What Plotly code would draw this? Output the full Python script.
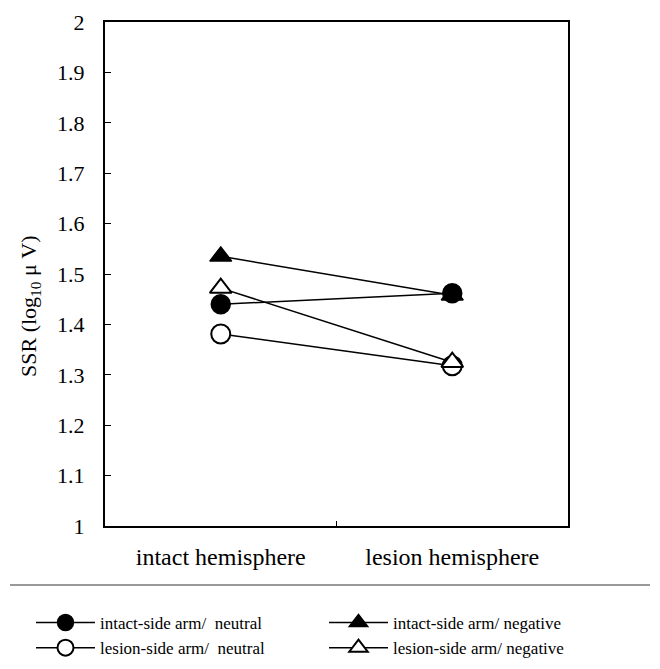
import plotly.graph_objects as go

categories = ["intact hemisphere", "lesion hemisphere"]
intact_arm_neutral = [1.440, 1.462]
intact_arm_negative = [1.535, 1.458]
lesion_arm_neutral = [1.381, 1.318]
lesion_arm_negative = [1.472, 1.325]
series_names = [
    "intact-side arm/  neutral",
    "intact-side arm/ negative",
    "lesion-side arm/  neutral",
    "lesion-side arm/ negative",
]
y_ticks = [1, 1.1, 1.2, 1.3, 1.4, 1.5, 1.6, 1.7, 1.8, 1.9, 2]
y_tick_labels = ["1", "1.1", "1.2", "1.3", "1.4", "1.5", "1.6", "1.7", "1.8", "1.9", "2"]
y_title = "SSR (log<sub>10</sub> μ V)"

FONT = "Liberation Serif, Times New Roman, serif"
W, H = 660, 669

styles = [
    dict(symbol="circle", size=19, color="black", line=dict(color="black", width=1.5)),
    dict(symbol="triangle-up", size=19, color="black", line=dict(color="black", width=1.5)),
    dict(symbol="circle", size=19, color="white", line=dict(color="black", width=2)),
    dict(symbol="triangle-up", size=19, color="white", line=dict(color="black", width=2)),
]
data = [intact_arm_neutral, intact_arm_negative, lesion_arm_neutral, lesion_arm_negative]

fig = go.Figure()
for name, vals, st in zip(series_names, data, styles):
    fig.add_trace(go.Scatter(
        x=categories, y=vals, name=name, mode="lines+markers",
        line=dict(color="black", width=1.5),
        marker=st,
    ))

ITEMW = 59
fig.update_layout(
    width=W, height=H,
    margin=dict(l=0, r=0, t=0, b=0, autoexpand=False),
    plot_bgcolor="white", paper_bgcolor="white",
    font=dict(family=FONT, size=18, color="black"),
    legend=dict(
        orientation="h", x=23 / W, y=(H - 597) / H, xanchor="left", yanchor="top",
        entrywidth=288 - ITEMW - 10, entrywidthmode="pixels",
        font=dict(size=17, family=FONT), itemwidth=ITEMW,
        tracegroupgap=0, bgcolor="rgba(0,0,0,0)",
    ),
    showlegend=True,
)
fig.update_xaxes(
    domain=[97 / W, 560 / W],
    type="category", range=[-0.5, 1.5],
    showline=True, linecolor="black", linewidth=2, mirror=True,
    ticks="inside", tickson="boundaries", ticklen=5, tickcolor="black",
    showgrid=False, zeroline=False, automargin=False,
    tickfont=dict(size=24, family=FONT), ticklabelstandoff=8,
)
fig.update_yaxes(
    domain=[(H - 518) / H, (H - 14) / H],
    range=[1, 2], tickvals=y_ticks, ticktext=y_tick_labels,
    showline=True, linecolor="black", linewidth=2, mirror=True,
    ticks="inside", ticklen=6, tickcolor="black",
    showgrid=False, zeroline=False, automargin=False,
    tickfont=dict(size=22, family=FONT), ticklabelstandoff=14,
)
fig.add_annotation(
    text=y_title, textangle=-90, showarrow=False,
    xref="paper", yref="paper", x=22 / W, y=(H - 298) / H,
    xanchor="center", yanchor="middle",
    font=dict(size=22, family=FONT, color="black"),
)
fig.add_shape(type="line", xref="paper", yref="paper",
              x0=2 / W, x1=642 / W,
              y0=(H - 577) / H, y1=(H - 577) / H,
              line=dict(color="#777777", width=1.5))

fig.write_html("out.html")
